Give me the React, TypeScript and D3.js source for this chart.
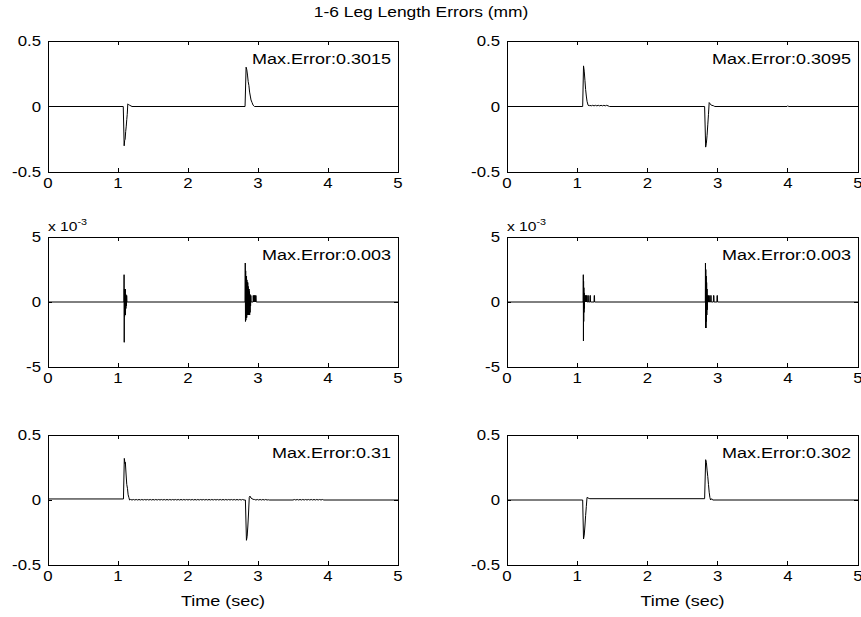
import React from "react";
import * as d3 from "d3";

// ---- data (time in s, error in mm; legs 3 and 4 in units of 10^-3 mm) ----
const timeTicks = [0, 1, 2, 3, 4, 5];
const bigTicks = [-0.5, 0, 0.5];
const smallTicks = [-5, 0, 5];
const titleText = "1-6 Leg Length Errors (mm)";
const xLabel = "Time (sec)";
const maxErrors = ["Max.Error:0.3015", "Max.Error:0.3095", "Max.Error:0.003", "Max.Error:0.003", "Max.Error:0.31", "Max.Error:0.302"];

const leg1: [number, number][] = [
  [0, 0], [1.075, 0], [1.088, -0.3], [1.095, -0.26], [1.102, -0.25], [1.11, -0.19], [1.118, -0.15], [1.125, -0.1], [1.132, -0.06], [1.14, 0.02], [1.15, 0.015], [1.165, 0.01], [1.2, 0],
  [2.815, 0], [2.83, 0.3], [2.84, 0.28], [2.85, 0.24], [2.86, 0.19], [2.87, 0.16], [2.88, 0.11], [2.89, 0.08], [2.9, 0.05], [2.915, 0.03], [2.93, 0.01], [2.95, 0], [5, 0],
];

const leg2: [number, number][] = [
  [0, 0], [1.078, 0], [1.09, 0.31], [1.1, 0.27], [1.11, 0.2], [1.12, 0.13], [1.13, 0.08], [1.14, 0.04], [1.155, 0.01], [1.17, 0.005],
  [1.18, 0.009], [1.2, 0.005], [1.22, 0.009], [1.24, 0.005], [1.26, 0.009], [1.28, 0.005], [1.3, 0.009], [1.32, 0.005], [1.34, 0.009], [1.36, 0.005],
  [1.38, 0.009], [1.4, 0.005], [1.42, 0.009], [1.44, 0.005], [1.46, 0],
  [2.815, 0], [2.83, -0.31], [2.84, -0.28], [2.85, -0.22], [2.86, -0.14], [2.87, -0.06], [2.88, 0.03], [2.895, 0.02], [2.91, 0.01], [2.94, 0.006], [2.96, 0],
  [3.99, 0], [4.0, 0.006], [4.01, 0], [5, 0],
];

const leg3: [number, number][] = [
  [0, 0], [1.085, 0], [1.087, 2.1], [1.089, -3.1], [1.092, 1.0], [1.095, -1.1], [1.098, 1.0], [1.101, -1.0], [1.104, 1.0], [1.107, -1.0], [1.11, 0.6], [1.113, -0.5], [1.116, 0.5], [1.12, -0.3], [1.124, 0.5], [1.128, 0],
  [2.815, 0], [2.818, 3.0], [2.821, -1.5], [2.824, 2.4], [2.827, -1.4], [2.83, 2.0], [2.833, -1.2], [2.836, 2.0], [2.839, -1.2], [2.842, 1.7], [2.845, -1.0], [2.848, 1.5], [2.851, -1.0],
  [2.854, 1.5], [2.857, -1.0], [2.86, 1.2], [2.863, -1.0], [2.866, 1.0], [2.869, -1.0], [2.872, 1.0], [2.875, -1.0], [2.878, 0.8], [2.881, -1.0], [2.884, 0.6], [2.887, -0.8], [2.89, 0.5], [2.894, -0.3], [2.898, 0.5], [2.902, 0],
  [2.93, 0], [2.932, 0.5], [2.936, 0], [2.94, 0.5], [2.944, 0], [2.95, 0.5], [2.955, 0], [2.96, 0.5], [2.965, 0], [2.97, 0.5], [2.975, 0], [5, 0],
];

const leg4: [number, number][] = [
  [0, 0], [1.085, 0], [1.087, 2.1], [1.089, -3.0], [1.091, 1.6], [1.093, -1.5], [1.095, 1.1], [1.097, -0.8], [1.099, 0.7], [1.101, -0.5], [1.103, 0.3], [1.106, 0],
  [1.11, 0], [1.112, 0.5], [1.116, 0], [1.12, 0.5], [1.124, 0], [1.128, 0.5], [1.132, 0], [1.136, 0.5], [1.14, 0], [1.15, 0], [1.152, 0.5], [1.158, 0.5], [1.16, 0], [1.18, 0], [1.182, 0.5], [1.188, 0.5], [1.19, 0],
  [1.24, 0], [1.242, 0.5], [1.246, 0.5], [1.248, 0],
  [2.825, 0], [2.827, 3.0], [2.829, -2.0], [2.832, 2.5], [2.835, -2.0], [2.838, 2.0], [2.841, -1.5], [2.844, 1.5], [2.847, -1.0], [2.85, 1.0], [2.853, -0.6], [2.856, 0.5], [2.86, 0],
  [2.87, 0], [2.872, 0.5], [2.876, 0], [2.88, 0.5], [2.884, 0], [2.9, 0], [2.902, 0.5], [2.908, 0.5], [2.91, 0], [2.94, 0], [2.942, 0.5], [2.948, 0.5], [2.95, 0],
  [2.99, 0], [2.992, 0.5], [2.997, 0.5], [3.0, 0], [5, 0],
];

const leg5: [number, number][] = [
  [0, 0.008], [1.078, 0.008], [1.09, 0.32], [1.1, 0.28], [1.105, 0.29], [1.115, 0.2], [1.125, 0.12], [1.135, 0.09], [1.145, 0.04], [1.155, 0.02], [1.165, 0.0],
  [1.18, 0.004], [1.2, 0.0], [1.22, 0.004], [1.24, 0.0], [1.26, 0.004], [1.28, 0.0], [1.3, 0.004], [1.32, 0.0], [1.34, 0.004], [1.36, 0.0], [1.38, 0.004], [1.4, 0.0],
  [1.42, 0.004], [1.44, 0.0], [1.46, 0.004], [1.48, 0.0], [1.5, 0.004], [1.52, 0.0], [1.54, 0.004], [1.56, 0.0], [1.58, 0.004], [1.6, 0.0], [1.62, 0.004], [1.64, 0.0],
  [1.66, 0.004], [1.68, 0.0], [1.7, 0.004], [1.72, 0.0], [1.74, 0.004], [1.76, 0.0], [1.78, 0.004], [1.8, 0.0], [1.82, 0.004], [1.84, 0.0], [1.86, 0.004], [1.88, 0.0],
  [1.9, 0.004], [1.92, 0.0], [1.94, 0.004], [1.96, 0.0], [1.98, 0.004], [2.0, 0.0], [2.02, 0.004], [2.04, 0.0], [2.06, 0.004], [2.08, 0.0], [2.1, 0.004], [2.12, 0.0],
  [2.14, 0.004], [2.16, 0.0], [2.18, 0.004], [2.2, 0.0], [2.22, 0.004], [2.24, 0.0], [2.26, 0.004], [2.28, 0.0], [2.3, 0.004], [2.32, 0.0], [2.34, 0.004], [2.36, 0.0],
  [2.38, 0.004], [2.4, 0.0], [2.42, 0.004], [2.44, 0.0], [2.46, 0.004], [2.48, 0.0], [2.5, 0.004], [2.52, 0.0], [2.54, 0.004], [2.56, 0.0], [2.58, 0.004], [2.6, 0.0],
  [2.62, 0.004], [2.64, 0.0], [2.66, 0.004], [2.68, 0.0], [2.7, 0.004], [2.72, 0.0], [2.74, 0.004], [2.76, 0.0], [2.78, 0.004], [2.8, 0.0],
  [2.82, 0], [2.835, -0.31], [2.845, -0.28], [2.855, -0.2], [2.865, -0.1], [2.875, 0.02], [2.885, 0.03], [2.9, 0.015], [2.93, 0.005],
  [2.95, 0.004], [2.97, 0.0], [2.99, 0.004], [3.01, 0.0], [3.03, 0.004], [3.05, 0.0], [3.07, 0.004], [3.09, 0.0], [3.11, 0.004], [3.13, 0.0], [3.15, 0.002], [3.16, 0], [3.5, 0],
  [3.52, 0.004], [3.54, 0.0], [3.56, 0.004], [3.58, 0.0], [3.6, 0.004], [3.62, 0.0], [3.64, 0.004], [3.66, 0.0], [3.68, 0.004], [3.7, 0.0], [3.72, 0.004], [3.74, 0.0],
  [3.76, 0.004], [3.78, 0.0], [3.8, 0.004], [3.82, 0.0], [3.84, 0.004], [3.86, 0.0], [3.88, 0.004], [3.9, 0.0], [3.92, 0.004], [3.94, 0.0], [5, 0],
];

const leg6: [number, number][] = [
  [0, 0], [1.078, 0], [1.09, -0.3], [1.1, -0.27], [1.11, -0.2], [1.12, -0.12], [1.13, -0.05], [1.14, 0.02], [1.155, 0.015], [1.18, 0.01],
  [2.815, 0.01], [2.83, 0.31], [2.84, 0.29], [2.85, 0.23], [2.86, 0.18], [2.87, 0.12], [2.88, 0.06], [2.89, 0.02], [2.9, 0.0], [2.915, 0.01], [2.93, 0], [5, 0],
];

const legs = [leg1, leg2, leg3, leg4, leg5, leg6];

// ---- layout ----
const W = 861;
const H = 617;
const cols = [
  { x0: 48, x1: 398 },
  { x0: 507, x1: 858 },
];
const rows = [
  { y0: 41, y1: 172 },
  { y0: 237, y1: 367 },
  { y0: 435, y1: 565 },
];
const FONT = "'Liberation Sans', Arial, Helvetica, sans-serif";
const SX = 1.2;
const TICK = 4;

function SText(props: { x: number; y: number; anchor?: string; size?: number; children: React.ReactNode }) {
  const { x, y, anchor = "start", size = 13, children } = props;
  return (
    <text
      transform={`translate(${x},${y}) scale(${SX},1)`}
      textAnchor={anchor}
      fontFamily={FONT}
      fontSize={size}
      fill="#000"
    >
      {children}
    </text>
  );
}

function Panel(props: { idx: number }) {
  const { idx } = props;
  const r = rows[Math.floor(idx / 2)];
  const c = cols[idx % 2];
  const isSmall = idx === 2 || idx === 3;
  const yTicks = isSmall ? smallTicks : bigTicks;
  const x = d3.scaleLinear().domain([0, 5]).range([c.x0, c.x1]);
  const y = d3.scaleLinear().domain([yTicks[0], yTicks[2]]).range([r.y1, r.y0]);
  const line = d3
    .line<[number, number]>()
    .x((d) => x(d[0]))
    .y((d) => y(d[1]));
  const bottomRow = idx >= 4;
  return (
    <g>
      <path d={line(legs[idx]) || ""} fill="none" stroke="#000" strokeWidth={1} strokeLinejoin="round" />
      <rect x={c.x0} y={r.y0} width={c.x1 - c.x0} height={r.y1 - r.y0} fill="none" stroke="#000" strokeWidth={1} shapeRendering="crispEdges" />
      {timeTicks.map((t) => (
        <g key={"xt" + t} shapeRendering="crispEdges">
          <line x1={x(t)} x2={x(t)} y1={r.y1} y2={r.y1 - TICK} stroke="#000" />
          <line x1={x(t)} x2={x(t)} y1={r.y0} y2={r.y0 + TICK} stroke="#000" />
        </g>
      ))}
      {yTicks.map((v) => (
        <g key={"yt" + v} shapeRendering="crispEdges">
          <line x1={c.x0} x2={c.x0 + TICK} y1={y(v)} y2={y(v)} stroke="#000" />
          <line x1={c.x1} x2={c.x1 - TICK} y1={y(v)} y2={y(v)} stroke="#000" />
        </g>
      ))}
      {timeTicks.map((t) => (
        <SText key={"xl" + t} x={x(t)} y={r.y1 + 16} anchor="middle" size={14}>
          {String(t)}
        </SText>
      ))}
      {yTicks.map((v) => (
        <SText key={"yl" + v} x={c.x0 - 7} y={y(v) + 5} anchor="end" size={14}>
          {String(v)}
        </SText>
      ))}
      {isSmall && (
        <text transform={`translate(${c.x0},${r.y0 - 6}) scale(${SX},1)`} fontFamily={FONT} fontSize={13} fill="#000">
          x 10<tspan fontSize={9} dy={-6}>-3</tspan>
        </text>
      )}
      <SText x={c.x1 - 7} y={r.y0 + 23} anchor="end" size={15}>
        {maxErrors[idx]}
      </SText>
      {bottomRow && (
        <SText x={(c.x0 + c.x1) / 2} y={r.y1 + 41} anchor="middle" size={15}>
          {xLabel}
        </SText>
      )}
    </g>
  );
}

export default function App() {
  return (
    <svg
      width={W}
      height={H}
      viewBox={`0 0 ${W} ${H}`}
      style={{ position: "absolute", left: 0, top: 0, background: "#fff" }}
    >
      <rect x={0} y={0} width={W} height={H} fill="#fff" />
      <SText x={421} y={17} anchor="middle" size={14.5}>
        {titleText}
      </SText>
      {legs.map((_, i) => (
        <Panel key={i} idx={i} />
      ))}
    </svg>
  );
}
